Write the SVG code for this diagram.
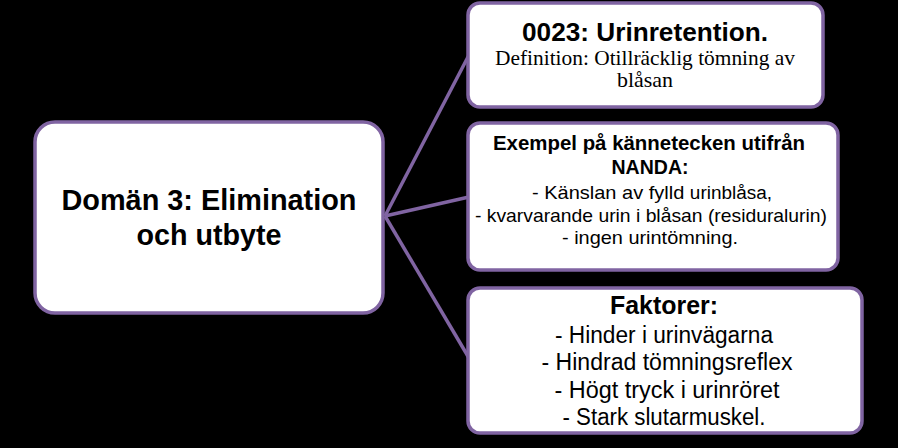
<svg xmlns="http://www.w3.org/2000/svg" width="898" height="448" viewBox="0 0 898 448">
  <style>
    .box { fill: #ffffff; stroke: #8064a2; stroke-width: 3.5; }
    .conn { stroke: #8064a2; stroke-width: 3.5; fill: none; }
    .sans { font-family: "Liberation Sans", Arial, sans-serif; fill: #000000; text-anchor: middle; }
    .serif { font-family: "Liberation Serif", "Times New Roman", serif; fill: #000000; text-anchor: middle; }
    .b { font-weight: bold; }
  </style>
  <rect x="0" y="0" width="898" height="448" fill="#000000"/>
  <g id="connectors">
    <line class="conn" x1="385" y1="216" x2="469" y2="55"/>
    <line class="conn" x1="385" y1="216" x2="469" y2="197"/>
    <line class="conn" x1="385" y1="216" x2="469" y2="358"/>
  </g>
  <g id="domain">
    <rect class="box" x="35" y="122" width="348" height="191" rx="20" ry="20"/>
    <text class="sans b" font-size="29" x="209" y="210" textLength="295" lengthAdjust="spacingAndGlyphs">Domän 3: Elimination</text>
    <text class="sans b" font-size="29" x="209" y="245" textLength="145" lengthAdjust="spacingAndGlyphs">och utbyte</text>
  </g>
  <g id="diagnosis">
    <rect class="box" x="468" y="3" width="355" height="104" rx="12" ry="12"/>
    <text class="sans b" font-size="25" x="645" y="41" textLength="246" lengthAdjust="spacingAndGlyphs">0023: Urinretention.</text>
    <text class="serif" font-size="21" x="645" y="65" textLength="300" lengthAdjust="spacingAndGlyphs">Definition: Otillräcklig tömning av</text>
    <text class="serif" font-size="21" x="645" y="87" textLength="56" lengthAdjust="spacingAndGlyphs">blåsan</text>
  </g>
  <g id="signs">
    <rect class="box" x="468" y="123" width="370" height="147" rx="12" ry="12"/>
    <text class="sans b" font-size="20" x="649" y="150" textLength="312" lengthAdjust="spacingAndGlyphs">Exempel på kännetecken utifrån</text>
    <text class="sans b" font-size="20" x="650" y="174" textLength="77" lengthAdjust="spacingAndGlyphs">NANDA:</text>
    <text class="sans" font-size="19" x="652" y="199" textLength="240" lengthAdjust="spacingAndGlyphs">- Känslan av fylld <tspan font-size="18">urinblåsa,</tspan></text>
    <text class="sans" font-size="18.5" x="651" y="222" textLength="352" lengthAdjust="spacingAndGlyphs">- kvarvarande urin i blåsan (residuralurin)</text>
    <text class="sans" font-size="18.5" x="650" y="244" textLength="176" lengthAdjust="spacingAndGlyphs">- ingen urintömning.</text>
  </g>
  <g id="factors">
    <rect class="box" x="468" y="288" width="394" height="145" rx="12" ry="12"/>
    <text class="sans b" font-size="26" x="664" y="314" textLength="108" lengthAdjust="spacingAndGlyphs">Faktorer:</text>
    <text class="sans" font-size="23.5" x="664" y="343" textLength="218" lengthAdjust="spacingAndGlyphs">- Hinder i urinvägarna</text>
    <text class="sans" font-size="23.5" x="667" y="370" textLength="251" lengthAdjust="spacingAndGlyphs">- Hindrad tömningsreflex</text>
    <text class="sans" font-size="23.5" x="667" y="398" textLength="225" lengthAdjust="spacingAndGlyphs">- Högt tryck i urinröret</text>
    <text class="sans" font-size="23.5" x="664" y="425" textLength="203" lengthAdjust="spacingAndGlyphs">- Stark slutarmuskel.</text>
  </g>
</svg>
